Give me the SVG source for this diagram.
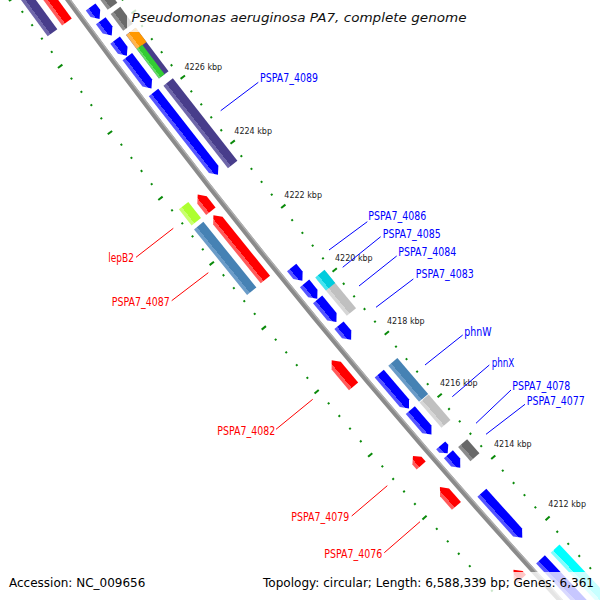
<svg xmlns="http://www.w3.org/2000/svg" width="600" height="600" viewBox="0 0 600 600">
<style>
.tl{font-family:"DejaVu Sans",sans-serif;font-size:8px;fill:#222}
.gl{font-family:"DejaVu Sans",sans-serif;font-size:11.5px}
.bt{fill:#00f}.rt{fill:#f00}
.bl{stroke:#00f;stroke-width:1;fill:none}.rl{stroke:#f00;stroke-width:1;fill:none}
.ft{font-family:"DejaVu Sans",sans-serif;font-size:12px;fill:#000}
.tick{fill:#0a8a0a}
.box{fill:#fff;fill-opacity:.78}
</style>
<defs>
<linearGradient id="gB"><stop offset=".7" stop-color="#00f"/><stop offset=".7" stop-color="#5555ff"/></linearGradient>
<linearGradient id="gR"><stop offset=".7" stop-color="#f00"/><stop offset=".7" stop-color="#ff5a5a"/></linearGradient>
<linearGradient id="gP"><stop offset=".7" stop-color="#483d8b"/><stop offset=".7" stop-color="#6f67a9"/></linearGradient>
<linearGradient id="gSB"><stop offset=".7" stop-color="#4682b4"/><stop offset=".7" stop-color="#6b9cc8"/></linearGradient>
<linearGradient id="gS"><stop offset=".7" stop-color="#c0c0c0"/><stop offset=".7" stop-color="#d6d6d6"/></linearGradient>
<linearGradient id="gG"><stop offset=".7" stop-color="#696969"/><stop offset=".7" stop-color="#8c8c8c"/></linearGradient>
<linearGradient id="gO"><stop offset=".7" stop-color="#ff9900"/><stop offset=".7" stop-color="#ffb54d"/></linearGradient>
<linearGradient id="gGr"><stop offset=".7" stop-color="#33cc33"/><stop offset=".7" stop-color="#66dd66"/></linearGradient>
<linearGradient id="gL"><stop offset=".7" stop-color="#adff2f"/><stop offset=".7" stop-color="#c8ff6e"/></linearGradient>
<linearGradient id="gC"><stop offset=".7" stop-color="#00ccdd"/><stop offset=".7" stop-color="#44e4f0"/></linearGradient>
<linearGradient id="gC2"><stop offset=".7" stop-color="#00ffff"/><stop offset=".7" stop-color="#80ffff"/></linearGradient>
<g id="tk" class="tick"><rect x="6955" y="-1" width="2" height="2"/><rect x="7043" y="-1" width="2" height="2"/></g>
<g id="tK" class="tick"><rect x="6951.5" y="-1" width="5.5" height="2"/><rect x="7043" y="-1" width="5.5" height="2"/></g>
</defs>
<rect width="600" height="600" fill="#fff"/>
<g id="map" transform="translate(5720,-4130)">
<g id="ticks">
<use href="#tk" transform="rotate(137.1104)"/>
<use href="#tk" transform="rotate(137.2452)"/>
<use href="#tK" transform="rotate(137.38)"/>
<use href="#tk" transform="rotate(137.5148)"/>
<use href="#tk" transform="rotate(137.6496)"/>
<use href="#tk" transform="rotate(137.7844)"/>
<use href="#tk" transform="rotate(137.9192)"/>
<use href="#tK" transform="rotate(138.054)"/>
<use href="#tk" transform="rotate(138.1888)"/>
<use href="#tk" transform="rotate(138.3236)"/>
<use href="#tk" transform="rotate(138.4584)"/>
<use href="#tk" transform="rotate(138.5932)"/>
<use href="#tK" transform="rotate(138.728)"/>
<use href="#tk" transform="rotate(138.8628)"/>
<use href="#tk" transform="rotate(138.9976)"/>
<use href="#tk" transform="rotate(139.1324)"/>
<use href="#tk" transform="rotate(139.2672)"/>
<use href="#tK" transform="rotate(139.402)"/>
<use href="#tk" transform="rotate(139.5368)"/>
<use href="#tk" transform="rotate(139.6716)"/>
<use href="#tk" transform="rotate(139.8064)"/>
<use href="#tk" transform="rotate(139.9412)"/>
<use href="#tK" transform="rotate(140.076)"/>
<use href="#tk" transform="rotate(140.2108)"/>
<use href="#tk" transform="rotate(140.3456)"/>
<use href="#tk" transform="rotate(140.4804)"/>
<use href="#tk" transform="rotate(140.6152)"/>
<use href="#tK" transform="rotate(140.75)"/>
<use href="#tk" transform="rotate(140.8848)"/>
<use href="#tk" transform="rotate(141.0196)"/>
<use href="#tk" transform="rotate(141.1544)"/>
<use href="#tk" transform="rotate(141.2892)"/>
<use href="#tK" transform="rotate(141.424)"/>
<use href="#tk" transform="rotate(141.5588)"/>
<use href="#tk" transform="rotate(141.6936)"/>
<use href="#tk" transform="rotate(141.8284)"/>
<use href="#tk" transform="rotate(141.9632)"/>
<use href="#tK" transform="rotate(142.098)"/>
<use href="#tk" transform="rotate(142.2328)"/>
<use href="#tk" transform="rotate(142.3676)"/>
<use href="#tk" transform="rotate(142.5024)"/>
<use href="#tk" transform="rotate(142.6372)"/>
<use href="#tK" transform="rotate(142.772)"/>
<use href="#tk" transform="rotate(142.9068)"/>
<use href="#tk" transform="rotate(143.0416)"/>
<use href="#tk" transform="rotate(143.1764)"/>
<use href="#tk" transform="rotate(143.3112)"/>
<use href="#tK" transform="rotate(143.446)"/>
<use href="#tk" transform="rotate(143.5808)"/>
<use href="#tk" transform="rotate(143.7156)"/>
<use href="#tk" transform="rotate(143.8504)"/>
<use href="#tk" transform="rotate(143.9852)"/>
<use href="#tK" transform="rotate(144.12)"/>
</g>
<circle id="backbone" r="7000" fill="none" stroke="#8a8a8a" stroke-width="5"/>
<circle r="6998.2" fill="none" stroke="#b0b0b0" stroke-width="1.4"/>
<g id="inner1" fill="url(#gB)">
<path id="B1" transform="rotate(143.565) translate(7000 0)" d="M-20 15H-8V7L-14 0L-20 7Z"/>
<path id="B2" transform="rotate(143.397) translate(7000 0)" d="M-20 18.4H-8V7L-14 0L-20 7Z"/>
<path id="B3" transform="rotate(143.189) translate(7000 0)" d="M-20 19.7H-8V7L-14 0L-20 7Z"/>
<path id="B4" transform="rotate(142.854) translate(7000 0)" d="M-20 40H-8V7L-14 0L-20 7Z"/>
<path id="B5" transform="rotate(141.96) translate(7000 0)" d="M-20 104.6H-8V7L-14 0L-20 7Z"/>
<path id="B6" transform="rotate(140.85) translate(7000 0)" d="M-20 17H-8V7L-14 0L-20 7Z"/>
<path id="B7" transform="rotate(140.657) translate(7000 0)" d="M-20 20H-8V7L-14 0L-20 7Z"/>
<path id="B8" transform="rotate(140.41) translate(7000 0)" d="M-20 29.5H-8V7L-14 0L-20 7Z"/>
<path id="B9" transform="rotate(140.221) translate(7000 0)" d="M-20 19H-8V7L-14 0L-20 7Z"/>
<path id="B10" transform="rotate(139.485) translate(7000 0)" d="M-20 45.8H-8V7L-14 0L-20 7Z"/>
<path id="B11" transform="rotate(139.202) translate(7000 0)" d="M-20 32.4H-8V7L-14 0L-20 7Z"/>
<path id="B12" transform="rotate(138.999) translate(7000 0)" d="M-20 10.6H-8V6L-14 0L-20 6Z"/>
<path id="B13" transform="rotate(138.842) translate(7000 0)" d="M-20 18H-8V7L-14 0L-20 7Z"/>
<path id="B14" transform="rotate(138.075) translate(7000 0)" d="M-20 60.5H-8V7L-14 0L-20 7Z"/>
<path id="B15" transform="rotate(136.9) translate(7000 0)" d="M-20 115H-8V7L-14 0L-20 7Z"/>
</g>
<g id="inner2">
<rect id="G1" transform="rotate(143.586) translate(7000 0)" x="-38" y="0" width="12" height="50.6" fill="url(#gG)"/>
<rect id="G2" transform="rotate(143.372) translate(7000 0)" x="-38" y="0" width="12" height="21" fill="url(#gG)"/>
<rect id="P0" transform="rotate(142.882) translate(7000 0)" x="-38" y="0" width="12" height="54.6" fill="url(#gP)"/>
<rect id="OR" transform="rotate(143.184) translate(7000 0)" x="-38" y="0" width="12" height="17.7" fill="url(#gO)"/>
<rect id="GR" transform="rotate(142.882) translate(7000 0)" x="-33" y="0" width="7" height="36.9" fill="url(#gGr)"/>
<rect id="P1" transform="rotate(141.953) translate(7000 0)" x="-38" y="0" width="12" height="104.7" fill="url(#gP)"/>
<rect id="S1" transform="rotate(140.395) translate(7000 0)" x="-38" y="0" width="12" height="47.3" fill="url(#gS)"/>
<rect id="C1" transform="rotate(140.665) translate(7000 0)" x="-38" y="0" width="12" height="16.9" fill="url(#gC)"/>
<rect id="SB1" transform="rotate(139.473) translate(7000 0)" x="-38" y="0" width="12" height="47.4" fill="url(#gSB)"/>
<rect id="S2" transform="rotate(139.191) translate(7000 0)" x="-38" y="0" width="12" height="33.5" fill="url(#gS)"/>
<rect id="G3" transform="rotate(138.828) translate(7000 0)" x="-38" y="0" width="12" height="18.7" fill="url(#gG)"/>
<rect id="C2" transform="rotate(136.9) translate(7000 0)" x="-38" y="0" width="12" height="112.9" fill="url(#gC2)"/>
</g>
<g id="outer1" fill="url(#gR)">
<rect id="R0" transform="rotate(143.704) translate(7000 0)" x="8" y="0" width="12" height="109.5"/>
<path id="R1" transform="rotate(141.762) translate(7000 0)" d="M8 0H20V14.3L14 21.3L8 14.3Z"/>
<path id="R2" transform="rotate(141.048) translate(7000 0)" d="M8 0H20V75.7L14 82.7L8 75.7Z"/>
<path id="R3" transform="rotate(139.916) translate(7000 0)" d="M8 0H20V27L14 34L8 27Z"/>
<path id="R4" transform="rotate(139.066) translate(7000 0)" d="M8 0H20V6.5L14 12.5L8 6.5Z"/>
<path id="R5" transform="rotate(138.628) translate(7000 0)" d="M8 0H20V18L14 25L8 18Z"/>
<path id="R6" transform="rotate(137.83) translate(7000 0)" d="M8 0H20V5L14 12L8 5Z"/>
</g>
<g id="outer2">
<rect id="P2" transform="rotate(143.703) translate(7000 0)" x="26" y="0" width="12" height="109.6" fill="url(#gP)"/>
<rect id="LM" transform="rotate(141.768) translate(7000 0)" x="26" y="0" width="12" height="20.5" fill="url(#gL)"/>
<rect id="SB2" transform="rotate(141.044) translate(7000 0)" x="26" y="0" width="12" height="84.3" fill="url(#gSB)"/>
</g>
</g>
<g id="tick-labels" class="tl">
<text x="184.5" y="69.5">4226 kbp</text>
<text x="234.3" y="133.5">4224 kbp</text>
<text x="284.3" y="197.7">4222 kbp</text>
<text x="335" y="261">4220 kbp</text>
<text x="387" y="323.7">4218 kbp</text>
<text x="440" y="386">4216 kbp</text>
<text x="494" y="447">4214 kbp</text>
<text x="548.3" y="506.7">4212 kbp</text>
</g>
<g id="connectors">
<path class="bl" d="M220.7 110.7L258.3 82.3"/>
<path class="bl" d="M329 250L367.3 221.7"/>
<path class="bl" d="M342.7 267.3L380.7 236.7"/>
<path class="bl" d="M359 286L396.7 256"/>
<path class="bl" d="M376 307.3L413.3 279"/>
<path class="bl" d="M425 365L462.7 335"/>
<path class="bl" d="M452.3 396.7L489.3 365"/>
<path class="bl" d="M476 423.3L511 390"/>
<path class="bl" d="M486 434.3L525 404.3"/>
<path class="rl" d="M136 257.3L173.3 228.3"/>
<path class="rl" d="M171.7 300.7L208.3 272.7"/>
<path class="rl" d="M276 429.3L312.7 399.3"/>
<path class="rl" d="M351.7 516L387.3 485.7"/>
<path class="rl" d="M384.3 552.7L420 521.7"/>
</g>
<g id="gene-labels" class="gl">
<text class="bt" x="260" y="82" textLength="58" lengthAdjust="spacingAndGlyphs">PSPA7_4089</text>
<text class="bt" x="368.3" y="220.3" textLength="58" lengthAdjust="spacingAndGlyphs">PSPA7_4086</text>
<text class="bt" x="382.7" y="237.6" textLength="58" lengthAdjust="spacingAndGlyphs">PSPA7_4085</text>
<text class="bt" x="398.3" y="256.3" textLength="58" lengthAdjust="spacingAndGlyphs">PSPA7_4084</text>
<text class="bt" x="415.7" y="277.6" textLength="58" lengthAdjust="spacingAndGlyphs">PSPA7_4083</text>
<text class="bt" x="464.3" y="336" textLength="27.3" lengthAdjust="spacingAndGlyphs">phnW</text>
<text class="bt" x="491.7" y="367" textLength="22.7" lengthAdjust="spacingAndGlyphs">phnX</text>
<text class="bt" x="512.3" y="390.3" textLength="58" lengthAdjust="spacingAndGlyphs">PSPA7_4078</text>
<text class="bt" x="526.7" y="405.3" textLength="58" lengthAdjust="spacingAndGlyphs">PSPA7_4077</text>
<text class="rt" x="108.3" y="262" textLength="25.7" lengthAdjust="spacingAndGlyphs">lepB2</text>
<text class="rt" x="111.7" y="306" textLength="58" lengthAdjust="spacingAndGlyphs">PSPA7_4087</text>
<text class="rt" x="217.3" y="434.6" textLength="58" lengthAdjust="spacingAndGlyphs">PSPA7_4082</text>
<text class="rt" x="291.3" y="521.3" textLength="58" lengthAdjust="spacingAndGlyphs">PSPA7_4079</text>
<text class="rt" x="324.3" y="558" textLength="58" lengthAdjust="spacingAndGlyphs">PSPA7_4076</text>
</g>
<g id="title">
<rect class="box" x="127" y="5" width="345" height="27"/>
<text x="131.5" y="22" font-family="DejaVu Sans, sans-serif" font-style="italic" font-size="13" fill="#111" textLength="335" lengthAdjust="spacingAndGlyphs">Pseudomonas aeruginosa PA7, complete genome</text>
</g>
<g id="footer">
<rect class="box" x="4" y="572" width="146" height="28"/>
<rect class="box" x="258" y="572" width="342" height="28"/>
<text class="ft" x="9" y="587">Accession: NC_009656</text>
<text class="ft" x="263" y="587" textLength="331" lengthAdjust="spacingAndGlyphs">Topology: circular; Length: 6,588,339 bp; Genes: 6,361</text>
</g>
</svg>
